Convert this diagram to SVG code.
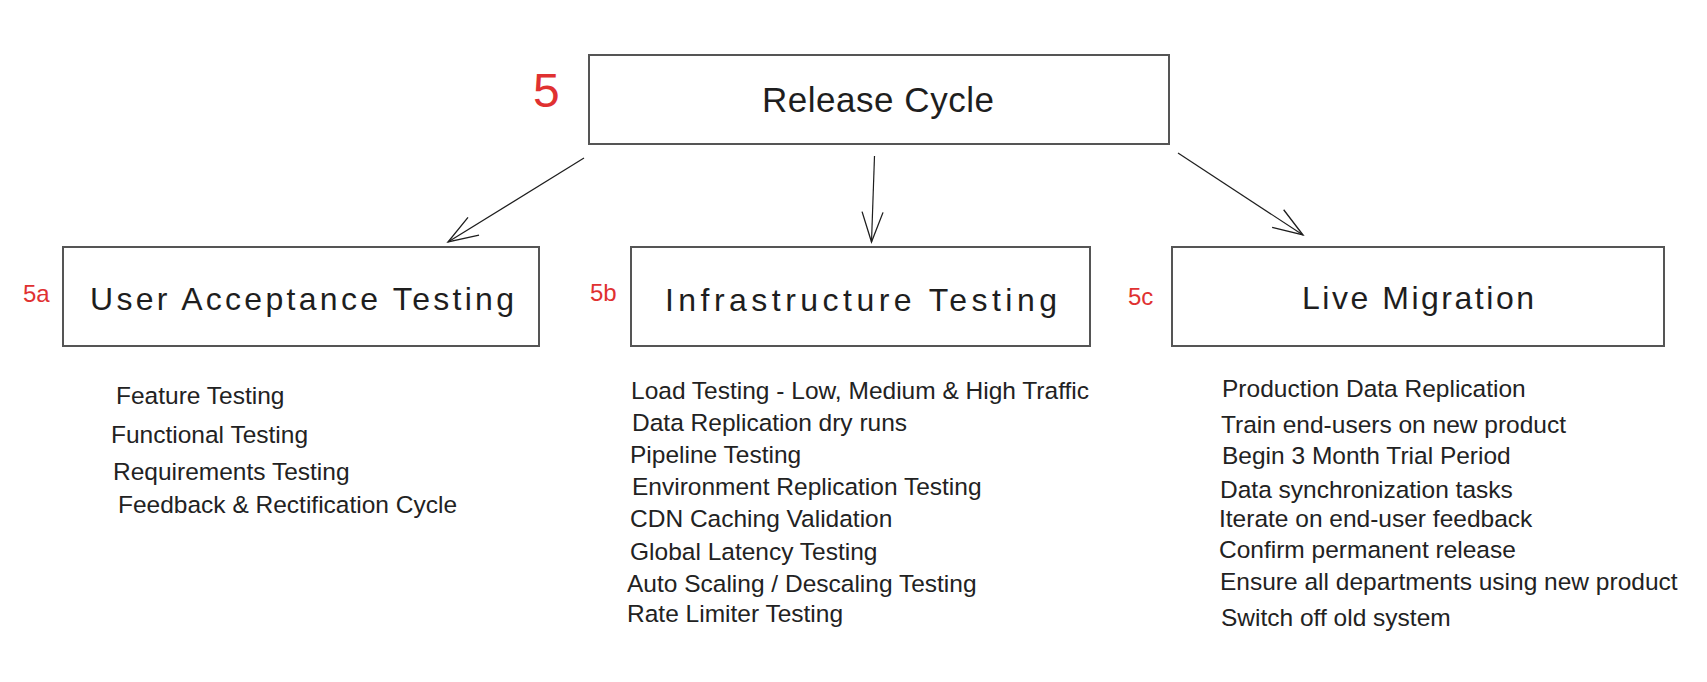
<svg xmlns="http://www.w3.org/2000/svg" width="1707" height="682" viewBox="0 0 1707 682">
  <style>
    .box { fill: #ffffff; stroke: #555555; stroke-width: 2; }
    .title { font-family: "Liberation Sans", Arial, sans-serif; font-size: 32px; fill: #1e1e1e; text-anchor: start; }
    .num { font-family: "Liberation Sans", Arial, sans-serif; font-size: 24px; fill: #e03131; }
    .item { font-family: "Liberation Sans", Arial, sans-serif; font-size: 24.5px; fill: #222222; }
    .conn { fill: none; stroke: #1e1e1e; stroke-width: 1.2; }
  </style>
  <defs>
    <marker id="arrow" markerUnits="userSpaceOnUse" markerWidth="40" markerHeight="30" refX="0" refY="0" viewBox="-35 -15 40 30" orient="auto" overflow="visible">
      <path d="M -30,-10.5 L 0,0 L -30,10.5" fill="none" stroke="#1e1e1e" stroke-width="1.3"/>
    </marker>
  </defs>
  <rect width="1707" height="682" fill="#ffffff"/>

  <g id="release-cycle">
    <text class="num" x="533" y="107" style="font-size:48px">5</text>
    <rect class="box" x="589" y="55" width="580" height="89"/>
    <text class="title" x="762" y="112" style="font-size:35px" textLength="232" lengthAdjust="spacing">Release Cycle</text>
  </g>

  <g id="uat">
    <text class="num" x="23" y="302">5a</text>
    <rect class="box" x="63" y="247" width="476" height="99"/>
    <text class="title" x="90" y="310" textLength="424" lengthAdjust="spacing">User Acceptance Testing</text>
    <text class="item" x="116" y="404">Feature Testing</text>
    <text class="item" x="111" y="443">Functional Testing</text>
    <text class="item" x="113" y="480">Requirements Testing</text>
    <text class="item" x="118" y="513">Feedback &amp; Rectification Cycle</text>
  </g>

  <g id="infra">
    <text class="num" x="590" y="301">5b</text>
    <rect class="box" x="631" y="247" width="459" height="99"/>
    <text class="title" x="665" y="311" textLength="392" lengthAdjust="spacing">Infrastructure Testing</text>
    <text class="item" x="631" y="399">Load Testing - Low, Medium &amp; High Traffic</text>
    <text class="item" x="632" y="431">Data Replication dry runs</text>
    <text class="item" x="630" y="463">Pipeline Testing</text>
    <text class="item" x="632" y="495">Environment Replication Testing</text>
    <text class="item" x="630" y="527">CDN Caching Validation</text>
    <text class="item" x="630" y="560">Global Latency Testing</text>
    <text class="item" x="627" y="592">Auto Scaling / Descaling Testing</text>
    <text class="item" x="627" y="622">Rate Limiter Testing</text>
  </g>

  <g id="live-migration">
    <text class="num" x="1128" y="305">5c</text>
    <rect class="box" x="1172" y="247" width="492" height="99"/>
    <text class="title" x="1302" y="309" textLength="232" lengthAdjust="spacing">Live Migration</text>
    <text class="item" x="1222" y="397">Production Data Replication</text>
    <text class="item" x="1221" y="433">Train end-users on new product</text>
    <text class="item" x="1222" y="464">Begin 3 Month Trial Period</text>
    <text class="item" x="1220" y="498">Data synchronization tasks</text>
    <text class="item" x="1219" y="527">Iterate on end-user feedback</text>
    <text class="item" x="1219" y="558">Confirm permanent release</text>
    <text class="item" x="1220" y="590">Ensure all departments using new product</text>
    <text class="item" x="1221" y="626">Switch off old system</text>
  </g>

  <g id="connectors">
    <path class="conn" d="M 584,158 L 448,242" marker-end="url(#arrow)"/>
    <path class="conn" d="M 874.5,156 L 871.5,242" marker-end="url(#arrow)"/>
    <path class="conn" d="M 1178,153 L 1303,235" marker-end="url(#arrow)"/>
  </g>
</svg>
